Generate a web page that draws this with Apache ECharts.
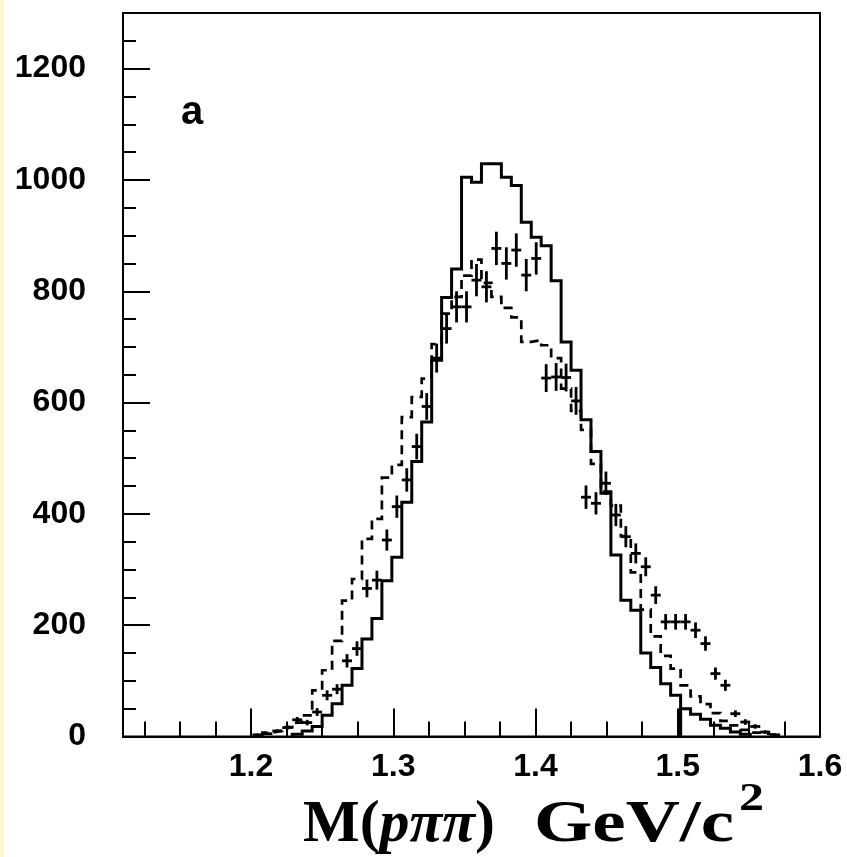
<!DOCTYPE html>
<html><head><meta charset="utf-8">
<script src="https://cdn.jsdelivr.net/npm/echarts@6/dist/echarts.min.js"></script>
<style>html,body{margin:0;padding:0;background:#fff}#chart{width:847px;height:857px}</style>
</head><body><div id="chart"></div>
<script>
// Histogram binning: 70 bins of 7 MeV from 1.11 to 1.60 GeV
const massMin = 1.11;
const massMax = 1.6;
const binWidth = 0.007;

// Solid histogram (main part) per bin
const solidMain = [
  0,0,0,0,0,0,0,0,0,0,
  0,0,0,0,0,0,0,4,10,18,
  38,59,92,122,175,212,280,322,421,494,
  565,676,789,840,1005,996,1029,1029,1005,990,
  924,897,882,819,709,658,569,512,437,326,
  245,227,150,124,95,74,0,0,0,0,
  0,0,0,0,0,0,0,0,0,0];
// Solid histogram (tail piece starting at 1.502)
const solidTail = [
  0,0,0,0,0,0,0,0,0,0,
  0,0,0,0,0,0,0,0,0,0,
  0,0,0,0,0,0,0,0,0,0,
  0,0,0,0,0,0,0,0,0,0,
  0,0,0,0,0,0,0,0,0,0,
  0,0,0,0,0,0,50,40,31,20,
  15,8,4,0,0,0,0,0,0,0];
// Dashed histogram per bin
const dashed = [
  0,0,0,0,0,0,0,0,0,0,
  0,0,0,0,7,10,17,25,38,83,
  119,172,244,283,355,391,465,488,574,610,
  643,705,760,790,828,857,815,790,770,753,
  709,712,703,680,625,585,551,490,440,415,
  360,295,228,180,145,122,92,72,58,42,
  28,20,12,7,4,2,0,0,0,0];
// Data points (crosses) per bin and their errors
const dataCounts = [
  0,0,0,0,0,0,0,0,0,0,
  0,0,0,3,5,10,16,30,25,44,
  74,85,136,158,266,281,353,413,461,521,
  593,680,733,772,772,820,808,877,850,874,
  829,859,644,646,645,603,430,419,455,398,
  359,329,305,254,206,206,206,191,167,113,
  92,41,26,18,8,3,0,0,0,0];
const dataErrors = [
  0,0,0,0,0,0,0,0,0,0,
  0,0,0,2,2,3,4,5,5,7,
  9,9,12,13,16,17,19,20,21,23,
  24,26,27,28,28,29,28,30,29,30,
  29,29,25,25,25,25,21,20,21,20,
  19,18,17,16,14,14,14,14,13,11,
  10,6,5,4,3,2,0,0,0,0];

const xMajorTicks = [1.2, 1.3, 1.4, 1.5, 1.6];
const xMinorTicks = [1.125,1.15,1.175,1.225,1.25,1.275,1.325,1.35,1.375,1.425,1.45,1.475,1.525,1.55,1.575];
const yMajorTicks = [0, 200, 400, 600, 800, 1000, 1200];
const yMinorTicks = [50,100,150,250,300,350,450,500,550,650,700,750,850,900,950,1050,1100,1150,1250];
const yMax = 1300;

function outline(values) {
  const first = values.findIndex(v => v > 0);
  let last = values.length - 1;
  while (last > first && !(values[last] > 0)) last--;
  const pts = [[massMin + first * binWidth, 0]];
  for (let k = first; k <= last; k++) {
    const lo = massMin + k * binWidth;
    pts.push([lo, values[k]], [lo + binWidth, values[k]]);
  }
  pts.push([massMin + (last + 1) * binWidth, 0]);
  return pts;
}
const crossData = [];
dataCounts.forEach((v, k) => {
  if (v > 0) crossData.push([massMin + (k + 0.5) * binWidth, v, dataErrors[k]]);
});

const black = '#000';
const sans = '"Liberation Sans", Arial, Helvetica, sans-serif';
const serif = '"Liberation Serif", "Times New Roman", serif';
const chart = echarts.init(document.getElementById('chart'), null, {renderer: 'canvas'});
const histLine = (data, type, w) => ({
  type: 'line', data: data, symbol: 'none', showSymbol: false, animation: false,
  xAxisIndex: 0, yAxisIndex: 0,
  lineStyle: {color: black, width: w, type: type, join: 'miter', cap: 'butt'}, z: 3
});

chart.setOption({
  backgroundColor: '#fff',
  animation: false,
  grid: {left: 123, top: 13, right: 27, bottom: 120.5, show: true, borderColor: black, borderWidth: 2, backgroundColor: 'transparent'},
  xAxis: [
    {type: 'value', position: 'bottom', min: massMin, max: massMax,
     axisLine: {show: true, lineStyle: {color: black, width: 2}},
     axisTick: {show: true, inside: true, length: 28, customValues: xMajorTicks, lineStyle: {color: black, width: 2}},
     axisLabel: {show: true, customValues: xMajorTicks, formatter: v => Number(v).toFixed(1), color: black, fontFamily: sans, fontWeight: 'bold', fontSize: 32, margin: 15},
     splitLine: {show: false}},
    {type: 'value', position: 'bottom', min: massMin, max: massMax,
     axisLine: {show: false},
     axisTick: {show: true, inside: true, length: 15, customValues: xMinorTicks, lineStyle: {color: black, width: 2}},
     axisLabel: {show: false}, splitLine: {show: false}}
  ],
  yAxis: [
    {type: 'value', position: 'left', min: 0, max: yMax,
     axisLine: {show: true, lineStyle: {color: black, width: 2}},
     axisTick: {show: true, inside: true, length: 27, customValues: yMajorTicks, lineStyle: {color: black, width: 2}},
     axisLabel: {show: true, customValues: yMajorTicks, formatter: v => String(Math.round(v)), color: black, fontFamily: sans, fontWeight: 'bold', fontSize: 32, margin: 37},
     splitLine: {show: false}},
    {type: 'value', position: 'left', min: 0, max: yMax,
     axisLine: {show: false},
     axisTick: {show: true, inside: true, length: 13, customValues: yMinorTicks, lineStyle: {color: black, width: 2}},
     axisLabel: {show: false}, splitLine: {show: false}}
  ],
  series: [
    histLine(outline(solidMain), 'solid', 3),
    histLine(outline(solidTail), 'solid', 3),
    histLine(outline(dashed), [9, 6], 2.7),
    {type: 'custom', data: crossData, xAxisIndex: 0, yAxisIndex: 0, z: 5,
     encode: {x: 0, y: 1},
     renderItem: function (params, api) {
       const x = api.value(0), y = api.value(1), e = api.value(2);
       const pL = api.coord([x - binWidth / 2, y]);
       const pR = api.coord([x + binWidth / 2, y]);
       const pT = api.coord([x, y + e]);
       const pB = api.coord([x, Math.max(0, y - e)]);
       const st = {stroke: black, lineWidth: 2.8};
       return {type: 'group', children: [
         {type: 'line', shape: {x1: pL[0], y1: pL[1], x2: pR[0], y2: pR[1]}, style: st},
         {type: 'line', shape: {x1: pT[0], y1: pT[1], x2: pB[0], y2: pB[1]}, style: st}
       ]};
     }}
  ],
  graphic: [
    {type: 'rect', silent: true, shape: {x: 0, y: 0, width: 4, height: 857}, style: {fill: '#fbf7d2'}},
    {type: 'text', x: 181, y: 113, style: {text: 'a', fill: black, fontFamily: sans, fontWeight: 'bold', fontSize: 40, verticalAlign: 'middle', align: 'left'}},
    {type: 'text', x: 303, y: 780, style: {
      text: '{m|M(}{i|pππ}{m|)}', verticalAlign: 'top', align: 'left',
      rich: {
        m: {fill: black, fontFamily: serif, fontWeight: 'bold', fontSize: 60, lineHeight: 90},
        i: {fill: black, fontFamily: serif, fontWeight: 'bold', fontStyle: 'italic', fontSize: 60, lineHeight: 90}
      }}},
    {type: 'text', x: 534, y: 780, scaleX: 1.25, style: {
      text: '{m|GeV/c}{s|2}', verticalAlign: 'top', align: 'left',
      rich: {
        m: {fill: black, fontFamily: serif, fontWeight: 'bold', fontSize: 60, lineHeight: 90},
        s: {fill: black, fontFamily: serif, fontWeight: 'bold', fontSize: 40, lineHeight: 66, verticalAlign: 'top', padding: [0, 0, 0, 4]}
      }}}
  ]
});
</script></body></html>
